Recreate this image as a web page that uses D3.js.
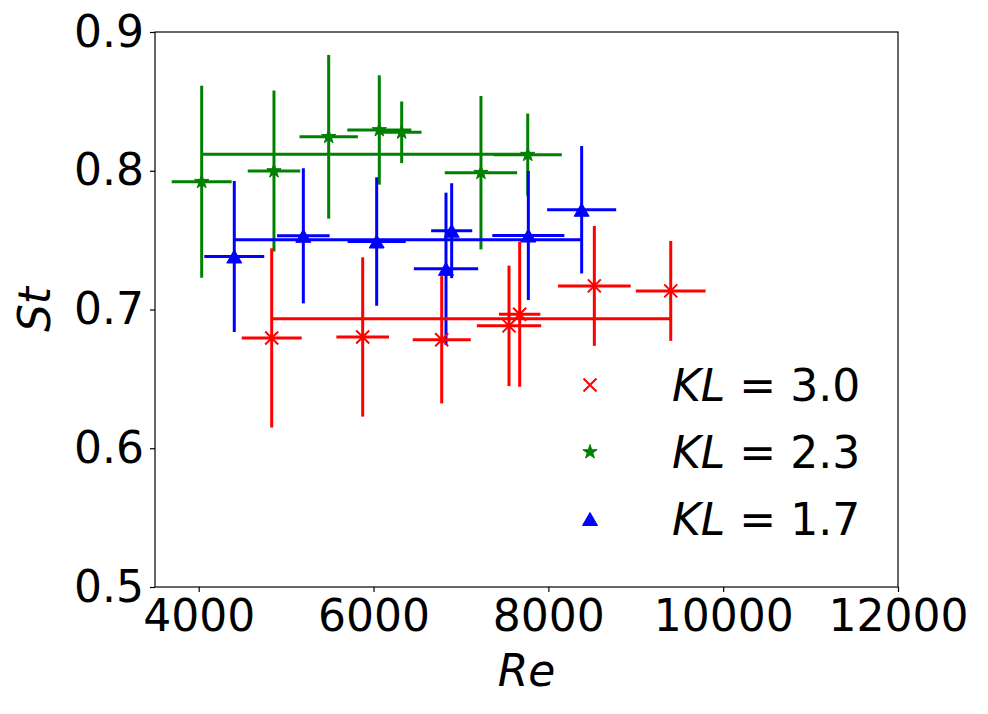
<!DOCTYPE html>
<html>
<head>
<meta charset="utf-8">
<script src="https://cdn.jsdelivr.net/npm/d3@7"></script>
<style>
	body { margin: 0; background: #fff; }
	text { font-family: "DejaVu Sans", sans-serif; }
</style>
</head>
<body>
<script>
// KL = 3.0 (red, x markers)
const reRed = [4835, 5876, 6780, 7550, 7672, 8526, 9400];
const stRed = [0.6795, 0.6802, 0.6782, 0.6882, 0.6966, 0.717, 0.7134];
const reErrRed = [343, 301, 332, 368, 237, 416, 399];
const stErrRed = [0.0646, 0.0574, 0.0459, 0.0434, 0.0523, 0.0432, 0.036];

// KL = 2.3 (green, stars)
const reGreen = [4034, 4861, 5487, 6066, 6322, 7229, 7764];
const stGreen = [0.7921, 0.7998, 0.8245, 0.8294, 0.8277, 0.7986, 0.8116];
const reErrGreen = [343, 300, 334, 366, 227, 414, 390];
const stErrGreen = [0.0692, 0.058, 0.059, 0.0394, 0.0222, 0.0553, 0.0296];

// KL = 1.7 (blue, triangles)
const reBlue = [4407, 5197, 6036, 6829, 6894, 7771, 8381];
const stBlue = [0.7382, 0.7531, 0.749, 0.7293, 0.7568, 0.7533, 0.7719];
const reErrBlue = [343, 301, 332, 368, 235, 412, 395];
const stErrBlue = [0.0544, 0.0487, 0.0463, 0.0549, 0.0342, 0.0465, 0.0459];

const klLabels = ["3.0", "2.3", "1.7"];
const xTicks = [4000, 6000, 8000, 10000, 12000];
const yTicks = [0.5, 0.6, 0.7, 0.8, 0.9];

var width = 988;
var height = 714;
var marginTop = 32;
var marginRight = 90;
var marginBottom = 127;
var marginLeft = 155;
var fontSize = 44;

const svg = d3
	.select("body")
	.append("svg")
	.attr("width", width)
	.attr("height", height);

const x = d3.scaleLinear().domain([3500, 12000]).range([marginLeft, width - marginRight]);
const y = d3.scaleLinear().domain([0.5, 0.9]).range([height - marginBottom, marginTop]);

function zip(re, st, reErr, stErr) {
	return re.map((d, i) => ({ re: d, st: st[i], reErr: reErr[i], stErr: stErr[i] }));
}

function starPath(r) {
	const pts = [];
	for (let i = 0; i < 10; i++) {
		const rad = i % 2 === 0 ? r : r * 0.382;
		const a = (Math.PI / 5) * i - Math.PI / 2;
		pts.push([rad * Math.cos(a), rad * Math.sin(a)]);
	}
	return "M" + pts.map((p) => p.join(",")).join("L") + "Z";
}

function trianglePath(w, h) {
	return `M0,${-h / 2}L${w / 2},${h / 2}L${-w / 2},${h / 2}Z`;
}

// drawing order: green, blue, red (red ends up on top)
const series = [
	{ data: zip(reGreen, stGreen, reErrGreen, stErrGreen), color: "green", marker: "star" },
	{ data: zip(reBlue, stBlue, reErrBlue, stErrBlue), color: "blue", marker: "triangle" },
	{ data: zip(reRed, stRed, reErrRed, stErrRed), color: "red", marker: "x" },
];

function drawMarker(g, type, color) {
	if (type === "x") {
		const s = 6.5;
		g.append("path")
			.attr("d", `M${-s},${-s}L${s},${s}M${-s},${s}L${s},${-s}`)
			.style("stroke", color)
			.style("stroke-width", 2)
			.style("fill", "none");
	} else if (type === "star") {
		g.append("path").attr("d", starPath(7.5)).style("fill", color).style("stroke", color).style("stroke-width", 1);
	} else {
		g.append("path").attr("d", trianglePath(15, 13)).style("fill", color).style("stroke", color).style("stroke-width", 1);
	}
}

series.forEach((s) => {
	const g = svg.append("g");

	// mean line spanning the Re range of the series
	const ext = d3.extent(s.data, (d) => d.re);
	const meanSt = d3.mean(s.data, (d) => d.st);
	g.append("line")
		.attr("x1", x(ext[0]))
		.attr("x2", x(ext[1]))
		.attr("y1", y(meanSt))
		.attr("y2", y(meanSt))
		.style("stroke", s.color)
		.style("stroke-width", 3);

	g.selectAll(".hbar")
		.data(s.data)
		.join("line")
		.attr("x1", (d) => x(d.re - d.reErr))
		.attr("x2", (d) => x(d.re + d.reErr))
		.attr("y1", (d) => y(d.st))
		.attr("y2", (d) => y(d.st))
		.style("stroke", s.color)
		.style("stroke-width", 3);

	g.selectAll(".vbar")
		.data(s.data)
		.join("line")
		.attr("x1", (d) => x(d.re))
		.attr("x2", (d) => x(d.re))
		.attr("y1", (d) => y(d.st - d.stErr))
		.attr("y2", (d) => y(d.st + d.stErr))
		.style("stroke", s.color)
		.style("stroke-width", 3);

	g.selectAll(".pt")
		.data(s.data)
		.join("g")
		.attr("transform", (d) => `translate(${x(d.re)},${y(d.st)})`)
		.each(function () {
			drawMarker(d3.select(this), s.marker, s.color);
		});
});

// frame
svg.append("rect")
	.attr("x", marginLeft)
	.attr("y", marginTop)
	.attr("width", width - marginRight - marginLeft)
	.attr("height", height - marginBottom - marginTop)
	.style("fill", "none")
	.style("stroke", "black")
	.style("stroke-width", 1.2);

const xAxis = svg
	.append("g")
	.attr("transform", `translate(0,${height - marginBottom})`)
	.call(d3.axisBottom(x).tickValues(xTicks).tickFormat(d3.format("d")).tickSize(5).tickPadding(8));

const yAxis = svg
	.append("g")
	.attr("transform", `translate(${marginLeft},0)`)
	.call(d3.axisLeft(y).tickValues(yTicks).tickFormat(d3.format(".1f")).tickSize(5).tickPadding(6));

[xAxis, yAxis].forEach((a) => {
	a.select(".domain").remove();
	a.selectAll("line").style("stroke", "black").style("stroke-width", 1.2);
	a.selectAll("text").style("font-size", fontSize + "px").style("fill", "black").attr("font-family", "DejaVu Sans");
});

// axis labels
svg.append("text")
	.attr("x", (marginLeft + width - marginRight) / 2)
	.attr("y", 686)
	.style("text-anchor", "middle")
	.style("font-size", fontSize + "px")
	.style("font-style", "italic")
	.text("Re");

svg.append("text")
	.attr("transform", `translate(50,${(marginTop + height - marginBottom) / 2}) rotate(-90)`)
	.style("text-anchor", "middle")
	.style("font-size", fontSize + "px")
	.style("font-style", "italic")
	.text("St");

// legend
const legendItems = [
	{ color: "red", marker: "x", kl: klLabels[0] },
	{ color: "green", marker: "star", kl: klLabels[1] },
	{ color: "blue", marker: "triangle", kl: klLabels[2] },
];

const legend = svg
	.selectAll(".legend")
	.data(legendItems)
	.join("g")
	.attr("class", "legend")
	.attr("transform", (d, i) => `translate(590,${385 + i * 67})`);

legend.each(function (d) {
	drawMarker(d3.select(this), d.marker, d.color);
});

const lt = legend
	.append("text")
	.attr("x", 82)
	.attr("y", 16)
	.style("font-size", fontSize + "px")
	.style("fill", "black");
lt.append("tspan").style("font-style", "italic").text("KL");
lt.append("tspan").text(" = ");
lt.append("tspan").text((d) => d.kl);
</script>
</body>
</html>
